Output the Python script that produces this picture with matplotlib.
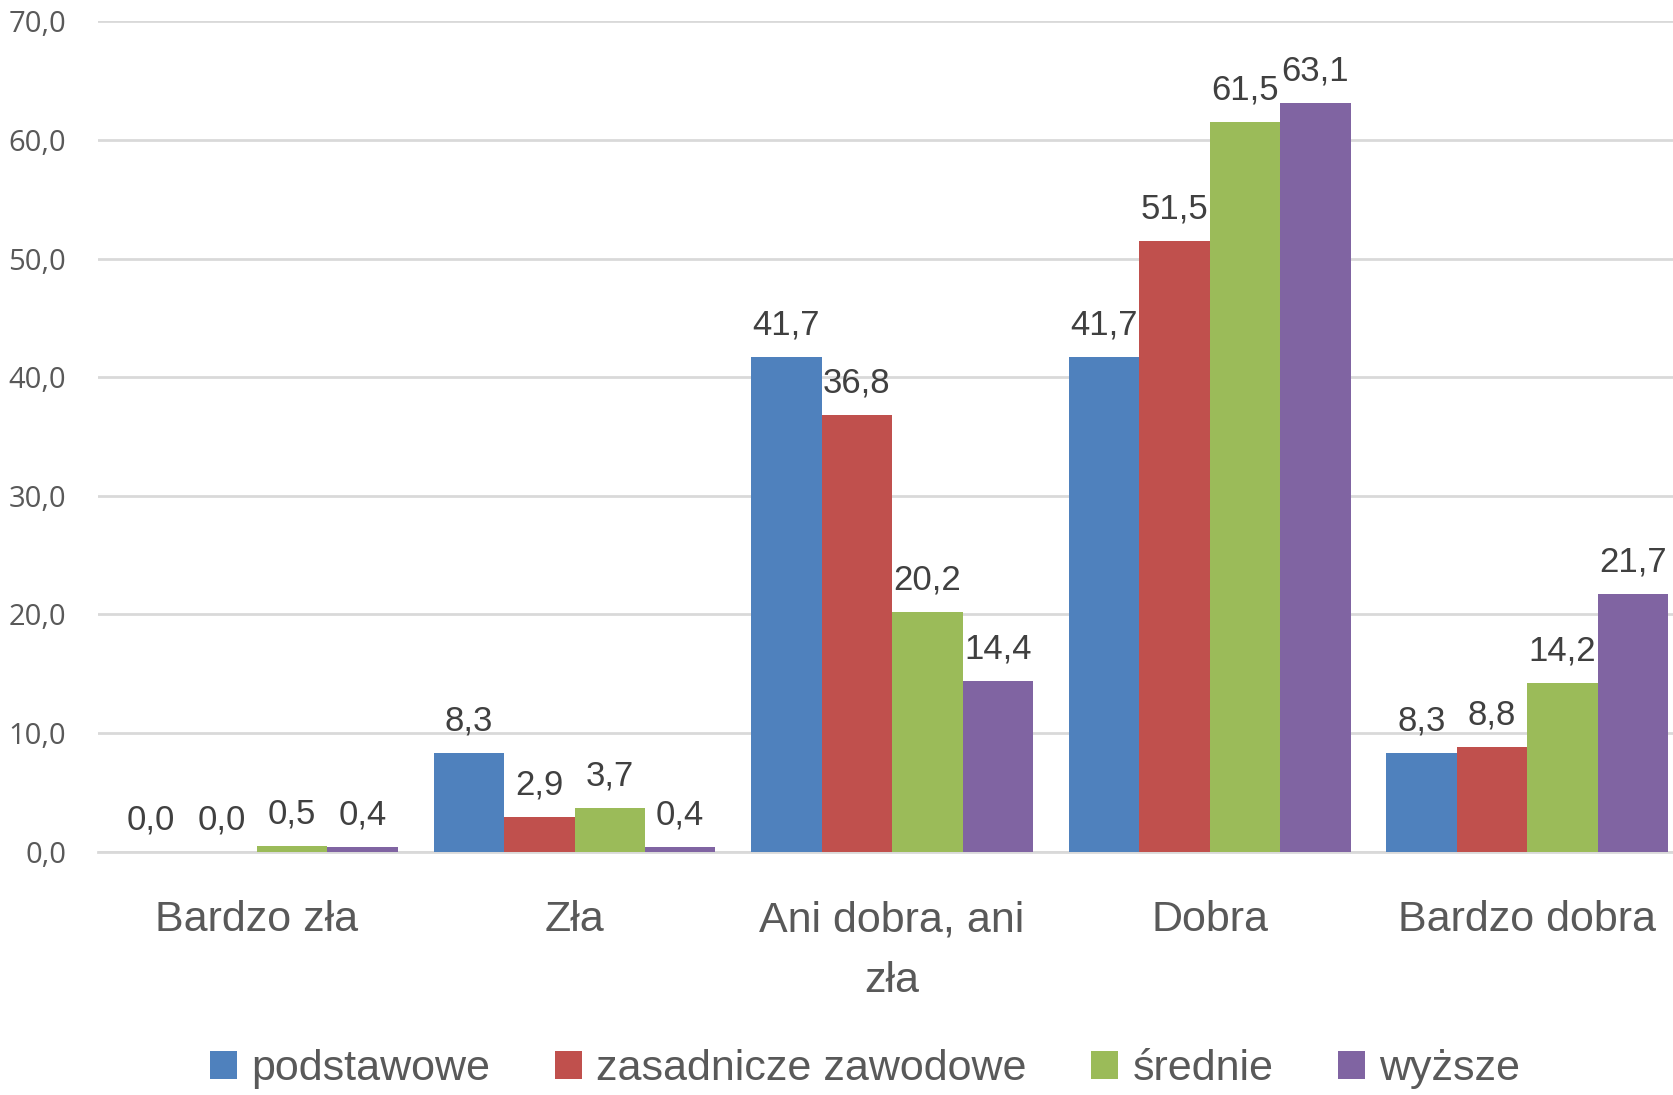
import numpy as np
import matplotlib
matplotlib.use("Agg")
import matplotlib.pyplot as plt
from matplotlib.ticker import FuncFormatter

# dane
categories = ['Bardzo zła', 'Zła', 'Ani dobra, ani\nzła', 'Dobra', 'Bardzo dobra']
series = ['podstawowe', 'zasadnicze zawodowe', 'średnie', 'wyższe']
podstawowe = [0.0, 8.3, 41.7, 41.7, 8.3]
zasadnicze = [0.0, 2.9, 36.8, 51.5, 8.8]
srednie = [0.5, 3.7, 20.2, 61.5, 14.2]
wyzsze = [0.4, 0.4, 14.4, 63.1, 21.7]
values = [podstawowe, zasadnicze, srednie, wyzsze]

colors = ['#4F81BD', '#C0504D', '#9BBB59', '#8064A2']
sans = ['Liberation Sans', 'DejaVu Sans']

fig = plt.figure(figsize=(16.73, 10.95), dpi=100)
ax = fig.add_axes([0.0587, 0.2223, 0.949, 0.7582])

x = np.arange(len(categories))
bar_width = 0.222
for i, (name, vals) in enumerate(zip(series, values)):
    pos = x + (i - 1.5) * bar_width
    bars = ax.bar(pos, vals, width=bar_width, color=colors[i], label=name, zorder=3)
    for b, v in zip(bars, vals):
        ax.annotate(f"{v:.1f}".replace('.', ','), (b.get_x() + b.get_width() / 2, v),
                    xytext=(0, 11), textcoords='offset points', ha='center', va='bottom',
                    fontsize=25, color='#404040', family=sans)

ax.set_xlim(-0.5, 4.5)
ax.set_ylim(0, 70)
ax.set_yticks(np.arange(0, 71, 10))
ax.yaxis.set_major_formatter(FuncFormatter(lambda v, p: f"{v:.1f}".replace('.', ',')))
ax.grid(axis='y', color='#d9d9d9', linewidth=2, zorder=0)
for s in ['top', 'right', 'left']:
    ax.spines[s].set_visible(False)
ax.spines['bottom'].set_color('#d9d9d9')
ax.spines['bottom'].set_linewidth(2)

ax.set_xticks(x)
ax.set_xticklabels(categories, fontsize=31, color='#595959', family=sans, linespacing=1.67)
ax.tick_params(axis='x', length=0, pad=35)
ax.tick_params(axis='y', length=0, pad=23, labelsize=21, labelcolor='#595959')
for t in ax.get_yticklabels():
    t.set_family(['Open Sans', 'DejaVu Sans'])

fig.legend(loc='center', bbox_to_anchor=(0.517, 0.0235), ncol=4, frameon=False,
           prop={'family': sans, 'size': 31}, labelcolor='#595959',
           handlelength=0.63, handleheight=0.63, handletextpad=0.33, columnspacing=1.5)

plt.savefig('out.png', dpi=100)
